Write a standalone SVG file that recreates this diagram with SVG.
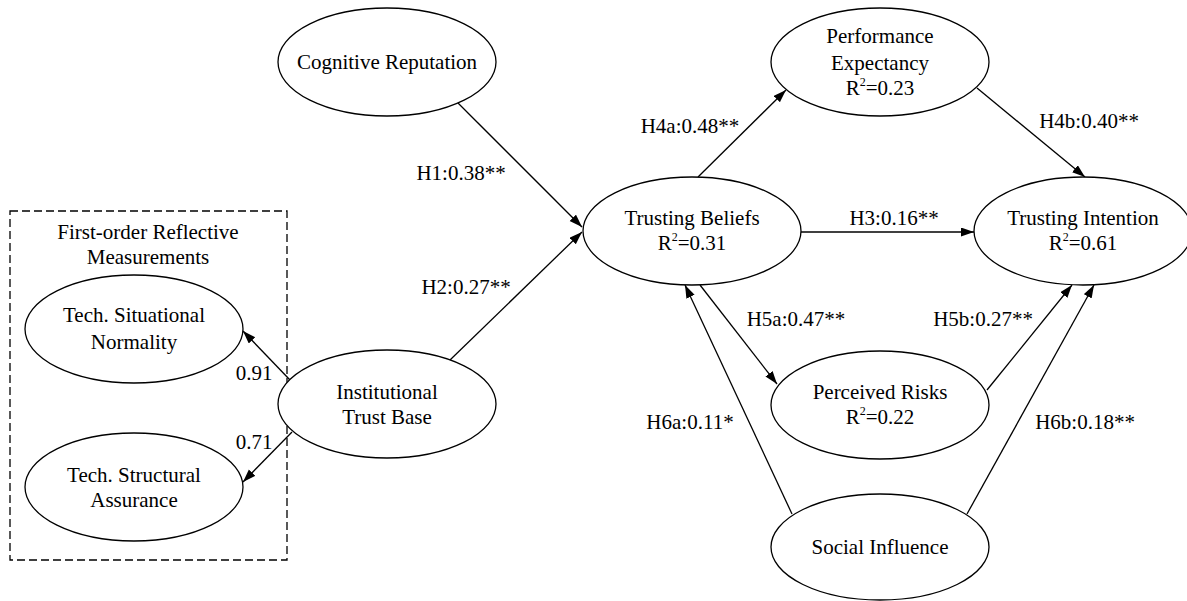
<svg xmlns="http://www.w3.org/2000/svg" width="1187" height="601" viewBox="0 0 1187 601">
<style>
text{font-family:"Liberation Serif","Times New Roman",serif;font-size:21px;fill:#000;text-anchor:middle}
.node ellipse{fill:#fff;stroke:#000;stroke-width:1.3}
.edge{stroke:#000;stroke-width:1.3;fill:none;marker-end:url(#arr)}
.sup{font-size:12px}
</style>
<defs>
<marker id="arr" markerUnits="userSpaceOnUse" markerWidth="14" markerHeight="10" refX="13" refY="4.5" orient="auto">
<path d="M0,0 L13,4.5 L0,9 z" fill="#000"/>
</marker>
</defs>
<rect x="0" y="0" width="1187" height="601" fill="#fff"/>
<g id="group-box">
<rect x="10" y="211" width="277" height="349" fill="none" stroke="#000" stroke-width="1.3" stroke-dasharray="8,4"/>
<text x="148" y="239">First-order Reflective</text>
<text x="148" y="264">Measurements</text>
</g>
<g id="connectors">
<line class="edge" x1="458" y1="103" x2="582" y2="227"/>
<line class="edge" x1="450" y1="360" x2="582" y2="232"/>
<line class="edge" x1="290" y1="380" x2="243" y2="331"/>
<line class="edge" x1="292" y1="432" x2="243" y2="482"/>
<line class="edge" x1="698" y1="177" x2="786" y2="90"/>
<line class="edge" x1="977" y1="88" x2="1085" y2="177"/>
<line class="edge" x1="801" y1="232" x2="974" y2="232"/>
<line class="edge" x1="700" y1="285" x2="777" y2="384"/>
<line class="edge" x1="987" y1="390" x2="1072" y2="285"/>
<line class="edge" x1="792" y1="514" x2="685" y2="285"/>
<line class="edge" x1="967" y1="514" x2="1094" y2="285"/>
<text x="461" y="180">H1:0.38**</text>
<text x="466" y="294">H2:0.27**</text>
<text x="254" y="380">0.91</text>
<text x="254" y="449">0.71</text>
<text x="690" y="133">H4a:0.48**</text>
<text x="1089" y="128">H4b:0.40**</text>
<text x="894" y="225">H3:0.16**</text>
<text x="796" y="326">H5a:0.47**</text>
<text x="983" y="326">H5b:0.27**</text>
<text x="690" y="429">H6a:0.11*</text>
<text x="1085" y="429">H6b:0.18**</text>
</g>
<g id="cognitive-reputation" class="node">
<ellipse cx="387" cy="62" rx="109" ry="54"/>
<text x="387" y="69">Cognitive Reputation</text>
</g>
<g id="institutional-trust-base" class="node">
<ellipse cx="387" cy="404" rx="109" ry="54"/>
<text x="387" y="399">Institutional</text>
<text x="387" y="424">Trust Base</text>
</g>
<g id="tech-situational-normality" class="node">
<ellipse cx="134" cy="329" rx="109" ry="54"/>
<text x="134" y="322">Tech. Situational</text>
<text x="134" y="349">Normality</text>
</g>
<g id="tech-structural-assurance" class="node">
<ellipse cx="134" cy="487" rx="109" ry="54"/>
<text x="134" y="482">Tech. Structural</text>
<text x="134" y="507">Assurance</text>
</g>
<g id="performance-expectancy" class="node">
<ellipse cx="880" cy="62" rx="109" ry="54"/>
<text x="880" y="43">Performance</text>
<text x="880" y="70">Expectancy</text>
<text x="880" y="95">R<tspan class="sup" dy="-9">2</tspan><tspan dy="9">=0.23</tspan></text>
</g>
<g id="trusting-beliefs" class="node">
<ellipse cx="692" cy="231" rx="109" ry="54"/>
<text x="692" y="225">Trusting Beliefs</text>
<text x="692" y="250">R<tspan class="sup" dy="-9">2</tspan><tspan dy="9">=0.31</tspan></text>
</g>
<g id="trusting-intention" class="node">
<ellipse cx="1083" cy="231" rx="109" ry="54"/>
<text x="1083" y="225">Trusting Intention</text>
<text x="1083" y="250">R<tspan class="sup" dy="-9">2</tspan><tspan dy="9">=0.61</tspan></text>
</g>
<g id="perceived-risks" class="node">
<ellipse cx="880" cy="405" rx="109" ry="54"/>
<text x="880" y="399">Perceived Risks</text>
<text x="880" y="424">R<tspan class="sup" dy="-9">2</tspan><tspan dy="9">=0.22</tspan></text>
</g>
<g id="social-influence" class="node">
<ellipse cx="880" cy="547" rx="109" ry="53"/>
<text x="880" y="554">Social Influence</text>
</g>
</svg>
